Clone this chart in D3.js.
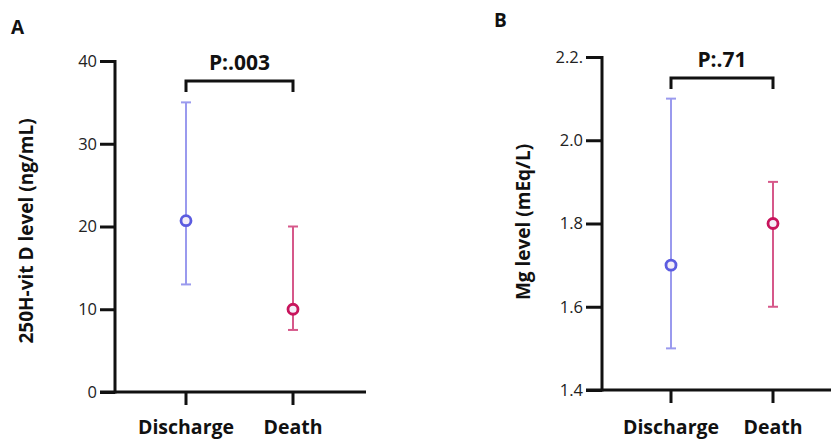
<!DOCTYPE html>
<html>
<head>
<meta charset="utf-8">
<script src="https://cdn.jsdelivr.net/npm/d3@7"></script>
<style>
  body { margin: 0; background: #fff; }
  text { font-family: "Open Sans", "Noto Sans", sans-serif; }
</style>
</head>
<body>
<svg id="chart" width="831" height="440"></svg>
<script>
const categories = ["Discharge", "Death"];

// panel A: 25OH-vit D
const vitdMean = [20.7, 10];
const vitdLow = [13, 7.5];
const vitdHigh = [35, 20];
const vitdTicks = [0, 10, 20, 30, 40];
const vitdTickLabels = ["0", "10", "20", "30", "40"];

// panel B: Mg
const mgMean = [1.7, 1.8];
const mgLow = [1.5, 1.6];
const mgHigh = [2.1, 1.9];
const mgTicks = [1.4, 1.6, 1.8, 2.0, 2.2];
const mgTickLabels = ["1.4", "1.6", "1.8", "2.0", "2.2."];

const lineColors = ["#9a9aee", "#d6588a"];
const dotColors = ["#5c5ce0", "#c8145c"];

const svg = d3.select("#chart");

function panel(opt) {
    const g = svg.append("g");
    const y = d3.scaleLinear().domain(opt.domain).range([opt.bottom, opt.top]);
    const x = d3.scalePoint().domain(categories).range(opt.xRange);

    // y axis
    const axis = d3.axisLeft(y)
        .tickValues(opt.ticks)
        .tickFormat((d, i) => opt.labels[i])
        .tickSizeInner(opt.tickLen)
        .tickSizeOuter(0)
        .tickPadding(3);
    const ga = g.append("g")
        .attr("transform", "translate(" + opt.axisX + ",0)")
        .call(axis);
    ga.select(".domain").attr("stroke", "#111").attr("stroke-width", 3)
        .attr("d", "M0," + (opt.top - 1) + "V" + (opt.bottom + 1.5));
    ga.selectAll(".tick line").attr("stroke", "#111").attr("stroke-width", 3);
    ga.selectAll(".tick text").attr("fill", "#222").style("font-size", "16.5px")
        .style("font-family", "'Open Sans', sans-serif");

    // x axis line
    g.append("line")
        .attr("x1", opt.axisX - opt.tickLen).attr("x2", opt.xEnd)
        .attr("y1", y(opt.domain[0])).attr("y2", y(opt.domain[0]))
        .attr("stroke", "#111").attr("stroke-width", 3);

    g.selectAll(".xtick").data(categories).enter().append("line")
        .attr("x1", d => x(d)).attr("x2", d => x(d))
        .attr("y1", y(opt.domain[0])).attr("y2", y(opt.domain[0]) + 13)
        .attr("stroke", "#111").attr("stroke-width", 3);

    g.selectAll(".xlabel").data(categories).enter().append("text")
        .attr("x", d => x(d)).attr("y", 434)
        .attr("text-anchor", "middle")
        .style("font-size", "19.5px").style("font-weight", "bold")
        .attr("fill", "#111")
        .text(d => d);

    // error bars
    categories.forEach((c, i) => {
        const cx = x(c);
        g.append("line")
            .attr("x1", cx).attr("x2", cx)
            .attr("y1", y(opt.low[i])).attr("y2", y(opt.high[i]))
            .attr("stroke", lineColors[i]).attr("stroke-width", 2);
        [opt.low[i], opt.high[i]].forEach(v => {
            g.append("line")
                .attr("x1", cx - 5).attr("x2", cx + 5)
                .attr("y1", y(v)).attr("y2", y(v))
                .attr("stroke", lineColors[i]).attr("stroke-width", 2);
        });
        g.append("circle")
            .attr("cx", cx).attr("cy", y(opt.mean[i])).attr("r", 5)
            .attr("fill", "#f4eef8")
            .attr("stroke", dotColors[i]).attr("stroke-width", 2.8);
    });

    // significance bracket
    const [bx1, bx2] = opt.xRange;
    g.append("path")
        .attr("d", "M" + bx1 + "," + (opt.bracketY + 11) + "V" + opt.bracketY +
            "H" + bx2 + "V" + (opt.bracketY + 11))
        .attr("fill", "none").attr("stroke", "#111").attr("stroke-width", 3);
    g.append("text")
        .attr("x", (bx1 + bx2) / 2).attr("y", opt.bracketY - 11)
        .attr("text-anchor", "middle")
        .style("font-size", "21px").style("font-weight", "bold")
        .attr("fill", "#111")
        .text(opt.pText);

    // y label
    g.append("text")
        .attr("transform", "translate(" + opt.labelX + "," + opt.labelY + ") rotate(-90)")
        .attr("text-anchor", "middle")
        .style("font-size", "19px").style("font-weight", "bold")
        .attr("fill", "#111")
        .text(opt.yLabel);

    // panel letter
    g.append("text")
        .attr("x", opt.letterX).attr("y", opt.letterY)
        .style("font-size", "19px").style("font-weight", "bold")
        .attr("fill", "#111")
        .text(opt.letter);
}

panel({
    domain: [0, 40], top: 61, bottom: 392,
    ticks: vitdTicks, labels: vitdTickLabels,
    mean: vitdMean, low: vitdLow, high: vitdHigh,
    axisX: 115, tickLen: 15, xRange: [186, 293], xEnd: 366,
    bracketY: 81, pText: "P:.003",
    yLabel: "250H-vit D level (ng/mL)", labelX: 33, labelY: 231,
    letter: "A", letterX: 11, letterY: 34
});

panel({
    domain: [1.4, 2.2], top: 57, bottom: 390,
    ticks: mgTicks, labels: mgTickLabels,
    mean: mgMean, low: mgLow, high: mgHigh,
    axisX: 602, tickLen: 16, xRange: [671, 773], xEnd: 831,
    bracketY: 78, pText: "P:.71",
    yLabel: "Mg level (mEq/L)", labelX: 530, labelY: 222,
    letter: "B", letterX: 494, letterY: 27
});
</script>
</body>
</html>
